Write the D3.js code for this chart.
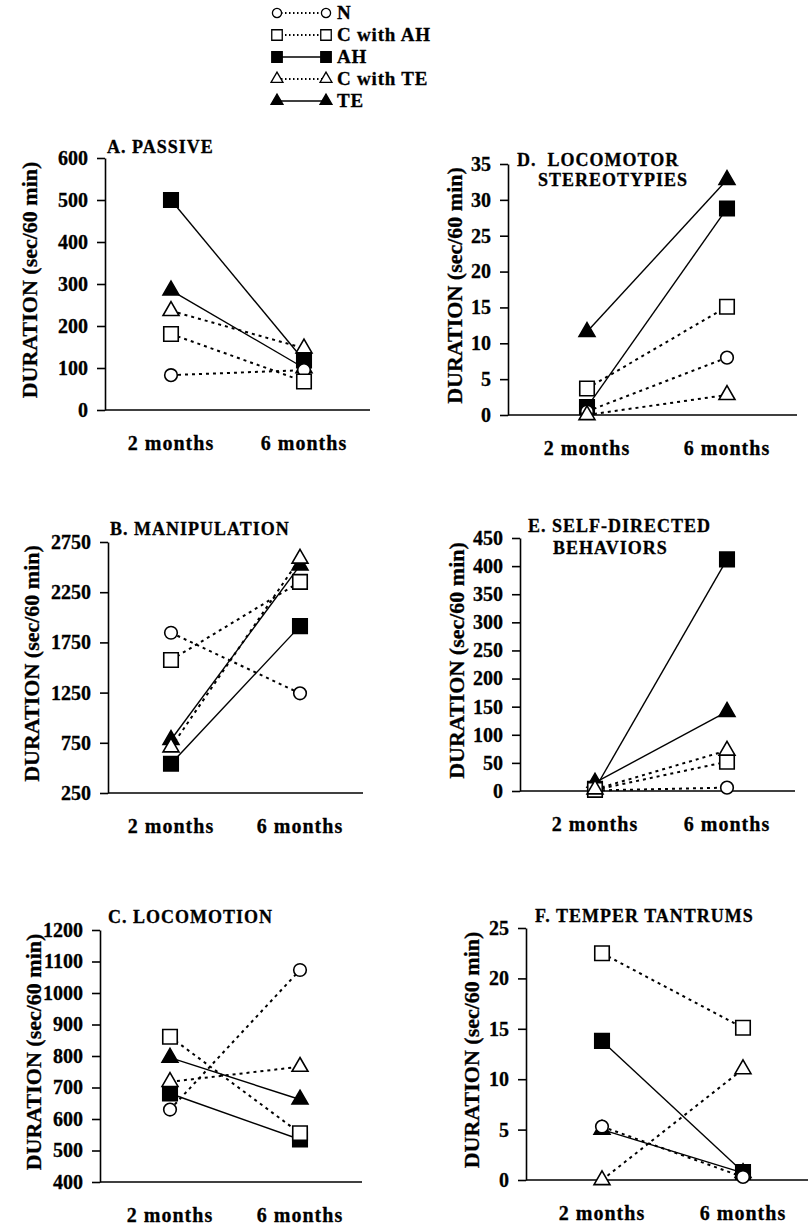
<html lang="en">
<head>
  <script src="https://d3js.org/d3.v7.min.js"></script>
  <style>
    body { margin: 0; background: white; }
  </style>
</head>
<body>
  <svg id="chart" width="808" height="1228" style="background: white"></svg>

  <script>
    // groups and time points
    const groups = ["N", "C with AH", "AH", "C with TE", "TE"];
    const times = ["2 months", "6 months"];

    // values per group (same order as groups): [2 months, 6 months]
    const passive      = [[83, 95], [181, 68], [500, 118], [236, 147], [285, 100]];
    const manipulation = [[1846, 1243], [1575, 2353], [541, 1912], [705, 2585], [780, 2518]];
    const locomotion   = [[630, 1073], [861, 555], [681, 535], [718, 766], [795, 662]];
    const stereotypies = [[0.5, 8.0], [3.7, 15.1], [1.1, 28.8], [0, 2.8], [11.6, 32.8]];
    const selfDirected = [[1, 6], [2, 52], [4, 412], [3, 72], [15, 141]];
    const tantrums     = [[5.3, 0.3], [22.5, 15.1], [13.8, 0.8], [0, 11.0], [5.0, 0.7]];

    // tick labels
    const passiveTicks      = [0, 100, 200, 300, 400, 500, 600];
    const manipulationTicks = [250, 750, 1250, 1750, 2250, 2750];
    const locomotionTicks   = [400, 500, 600, 700, 800, 900, 1000, 1100, 1200];
    const stereoTicks       = [0, 5, 10, 15, 20, 25, 30, 35];
    const selfTicks         = [0, 50, 100, 150, 200, 250, 300, 350, 400, 450];
    const tantrumTicks      = [0, 5, 10, 15, 20, 25];

    const yLabel = "DURATION (sec/60 min)";
    const serif = "'Liberation Serif','Times New Roman',serif";

    const panels = [
      { data: passive, ticks: passiveTicks, title: ["A. PASSIVE"], x0: 105, x1: 370, p2: 171, p6: 304, yTop: 158, yBot: 410, labelX: 29, tx: [107], ty: 153, gap: 18 },
      { data: manipulation, ticks: manipulationTicks, title: ["B. MANIPULATION"], x0: 108, x1: 363, p2: 171, p6: 300, yTop: 542, yBot: 793, labelX: 31, tx: [110], ty: 535, gap: 18 },
      { data: locomotion, ticks: locomotionTicks, title: ["C. LOCOMOTION"], x0: 100, x1: 362, p2: 170, p6: 300, yTop: 930, yBot: 1182, labelX: 33, tx: [108], ty: 923, gap: 18 },
      { data: stereotypies, ticks: stereoTicks, title: ["D.  LOCOMOTOR", "STEREOTYPIES"], x0: 508, x1: 797, p2: 587, p6: 727, yTop: 164, yBot: 415, labelX: 454, tx: [517, 538], ty: 166, gap: 20 },
      { data: selfDirected, ticks: selfTicks, title: ["E. SELF-DIRECTED", "BEHAVIORS"], x0: 520, x1: 795, p2: 595, p6: 727, yTop: 538, yBot: 791, labelX: 456, tx: [528, 553], ty: 532, gap: 22 },
      { data: tantrums, ticks: tantrumTicks, title: ["F. TEMPER TANTRUMS"], x0: 526, x1: 808, p2: 602, p6: 743, yTop: 928, yBot: 1180, labelX: 471, tx: [535], ty: 922, gap: 18 }
    ];

    const shapeOf = { "N": d3.symbolCircle, "C with AH": d3.symbolSquare, "AH": d3.symbolSquare, "C with TE": d3.symbolTriangle, "TE": d3.symbolTriangle };
    const filledOf = { "N": false, "C with AH": false, "AH": true, "C with TE": false, "TE": true };
    // bigger marks in the plots, smaller in the legend
    const sizeOf = { "N": 125, "C with AH": 210, "AH": 210, "C with TE": 110, "TE": 110 };
    const legendSizeOf = { "N": 66, "C with AH": 110, "AH": 110, "C with TE": 62, "TE": 62 };
    const drawOrder = [2, 4, 0, 1, 3];

    const svg = d3.select("#chart");

    // scanned print looks heavy, thicken the glyphs a bit
    function ink(sel) {
      sel.attr("fill", "#000").attr("stroke", "#000").attr("stroke-width", 0.3);
    }

    function styleLine(sel, g, dash) {
      if (filledOf[g]) {
        sel.attr("stroke-width", 1.4);
      } else {
        sel.attr("stroke-width", 2).attr("stroke-dasharray", dash || "3,4");
      }
    }

    function drawPanel(p) {
      const x = d3.scalePoint().domain(times).range([p.p2, p.p6]);
      const y = d3.scaleLinear().domain([p.ticks[0], p.ticks[p.ticks.length - 1]]).range([p.yBot, p.yTop]);

      const ax = svg.append("g")
        .attr("transform", "translate(" + p.x0 + ",0)")
        .call(d3.axisLeft(y).tickValues(p.ticks).tickFormat(d3.format("d")).tickSize(8).tickSizeOuter(0).tickPadding(9));
      ax.attr("font-family", serif).attr("font-size", 20).attr("font-weight", "bold");
      ax.selectAll("line, path").attr("stroke", "#000").attr("stroke-width", 1.6);
      ax.selectAll("text").call(ink);

      // x axis baseline
      svg.append("line")
        .attr("x1", p.x0).attr("x2", p.x1)
        .attr("y1", p.yBot).attr("y2", p.yBot)
        .attr("stroke", "#000").attr("stroke-width", 1.6);

      svg.selectAll(null)
        .data(times)
        .enter()
        .append("text")
        .attr("x", d => x(d))
        .attr("y", p.yBot + 40)
        .attr("text-anchor", "middle")
        .attr("font-family", serif).attr("font-size", 20).attr("font-weight", "bold")
        .attr("letter-spacing", 1)
        .call(ink)
        .text(d => d);

      // y label
      const cy = (p.yTop + p.yBot) / 2 - 4;
      svg.append("text")
        .attr("transform", "translate(" + p.labelX + "," + cy + ") rotate(-90)")
        .attr("text-anchor", "middle")
        .attr("dominant-baseline", "central")
        .attr("font-family", serif).attr("font-size", 22).attr("font-weight", "bold")
        .call(ink)
        .text(yLabel);

      // title
      const t = svg.append("text")
        .attr("font-family", serif).attr("font-size", 18).attr("font-weight", "bold")
        .attr("letter-spacing", 1)
        .call(ink);
      p.title.forEach((line, i) => {
        t.append("tspan").attr("x", p.tx[i]).attr("y", p.ty + i * p.gap).attr("xml:space", "preserve").text(line);
      });

      const line = d3.line().x((d, i) => x(times[i])).y(d => y(d));

      drawOrder.forEach(gi => {
        const g = groups[gi];
        svg.append("path")
          .datum(p.data[gi])
          .attr("d", line)
          .attr("fill", "none")
          .attr("stroke", "#000")
          .call(styleLine, g);
      });

      drawOrder.forEach(gi => {
        const g = groups[gi];
        svg.selectAll(null)
          .data(p.data[gi])
          .enter()
          .append("path")
          .attr("transform", (d, i) => "translate(" + x(times[i]) + "," + y(d) + ")")
          .attr("d", d3.symbol().type(shapeOf[g]).size(sizeOf[g]))
          .attr("fill", filledOf[g] ? "#000" : "#fff")
          .attr("stroke", "#000")
          .attr("stroke-width", 1.6);
      });
    }

    panels.forEach(drawPanel);

    // legend
    const legend = svg.append("g");
    groups.forEach((g, i) => {
      const ly = 13 + i * 22;
      legend.append("line")
        .attr("x1", 277).attr("x2", 326).attr("y1", ly).attr("y2", ly)
        .attr("stroke", "#000")
        .call(styleLine, g, "1.5,2.5");
      [277, 326].forEach(lx => {
        legend.append("path")
          .attr("transform", "translate(" + lx + "," + ly + ")")
          .attr("d", d3.symbol().type(shapeOf[g]).size(legendSizeOf[g]))
          .attr("fill", filledOf[g] ? "#000" : "#fff")
          .attr("stroke", "#000")
          .attr("stroke-width", 1.3);
      });
      legend.append("text")
        .attr("x", 337).attr("y", ly + 6)
        .attr("font-family", serif).attr("font-size", 19).attr("font-weight", "bold")
        .attr("letter-spacing", 0.8)
        .call(ink)
        .text(g);
    });
  </script>
</body>
</html>
